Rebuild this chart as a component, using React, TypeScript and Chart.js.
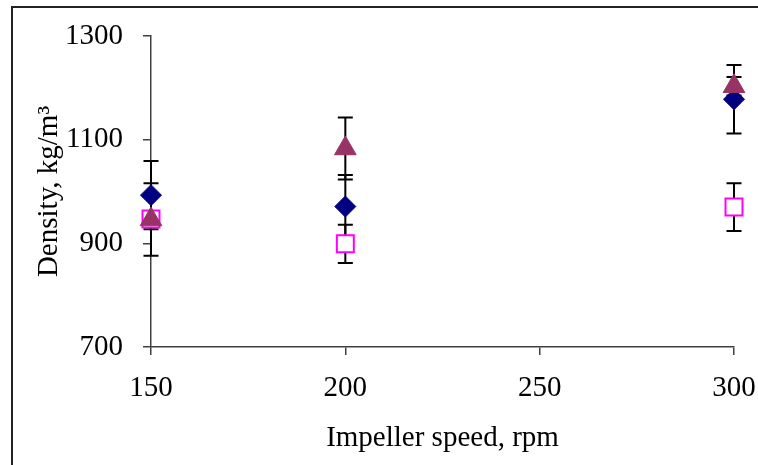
import React, { useEffect, useRef } from "react";
import { Chart, registerables } from "chart.js";

Chart.register(...registerables);

const speeds = [150, 200, 300];
const diamondValues = [993, 971, 1178];
const diamondErrors = [66, 61, 66];
const squareValues = [947, 899, 970];
const squareErrors = [12, 37, 46];
const triangleValues = [946, 1083, 1203];
const triangleErrors = [70, 60, 18];
const yTicks = [700, 900, 1100, 1300];
const xTicks = [150, 200, 250, 300];

const FONT = "'Liberation Serif', 'Times New Roman', serif";

const errorBarPlugin = {
  id: "errorBars",
  beforeDatasetsDraw(chart: any) {
    const ctx = chart.ctx;
    const xs = chart.scales.x;
    const ys = chart.scales.y;
    ctx.save();
    ctx.strokeStyle = "#000";
    ctx.lineWidth = 2;
    chart.data.datasets.forEach((ds: any) => {
      const errs: number[] = ds.errors || [];
      ds.data.forEach((p: any, i: number) => {
        const e = errs[i];
        if (!e) return;
        const px = xs.getPixelForValue(p.x);
        const top = ys.getPixelForValue(p.y + e);
        const bot = ys.getPixelForValue(p.y - e);
        ctx.beginPath();
        ctx.moveTo(px, top);
        ctx.lineTo(px, bot);
        ctx.moveTo(px - 7.5, top);
        ctx.lineTo(px + 7.5, top);
        ctx.moveTo(px - 7.5, bot);
        ctx.lineTo(px + 7.5, bot);
        ctx.stroke();
      });
    });
    ctx.restore();
  },
};

export default function App() {
  const ref = useRef<HTMLCanvasElement>(null);
  useEffect(() => {
    const toPts = (vals: number[]) => vals.map((v, i) => ({ x: speeds[i], y: v }));
    const chart = new Chart(ref.current!, {
      type: "scatter",
      data: {
        datasets: [
          {
            label: "triangle",
            data: toPts(triangleValues),
            errors: triangleErrors,
            pointStyle: "triangle",
            pointRadius: 12.5,
            backgroundColor: "#993366",
            borderColor: "#993366",
            borderWidth: 1,
            clip: false,
          } as any,
          {
            label: "square",
            data: toPts(squareValues),
            errors: squareErrors,
            pointStyle: "rect",
            pointRadius: 12,
            backgroundColor: "#ffffff",
            borderColor: "#ff00ff",
            borderWidth: 2,
            clip: false,
          } as any,
          {
            label: "diamond",
            data: toPts(diamondValues),
            errors: diamondErrors,
            pointStyle: "rectRot",
            pointRadius: 10.5,
            backgroundColor: "#000080",
            borderColor: "#000080",
            borderWidth: 1,
            clip: false,
          } as any,
        ],
      },
      options: {
        animation: false,
        responsive: false,
        maintainAspectRatio: false,
        layout: { autoPadding: false, padding: { top: 36, right: 24, left: 0, bottom: 0 } },
        plugins: { legend: { display: false }, tooltip: { enabled: false } },
        scales: {
          x: {
            type: "linear",
            min: 150,
            max: 300,
            afterBuildTicks: (s: any) => {
              s.ticks = xTicks.map((v) => ({ value: v }));
            },
            afterFit: (s: any) => {
              s.height = 118;
              s.paddingLeft = 0;
              s.paddingRight = 0;
            },
            grid: { display: true, drawOnChartArea: false, drawTicks: true, tickLength: 8, color: "#404040", lineWidth: 1.5 },
            border: { display: true, color: "#404040", width: 1.5 },
            ticks: { color: "#000", padding: 16, font: { family: FONT, size: 29 }, callback: (v: any) => String(v) },
            title: {
              display: true,
              text: "Impeller speed, rpm",
              color: "#000",
              font: { family: FONT, size: 29 },
              padding: { top: 4, bottom: 9 },
            },
          },
          y: {
            type: "linear",
            min: 700,
            max: 1300,
            afterBuildTicks: (s: any) => {
              s.ticks = yTicks.map((v) => ({ value: v }));
            },
            afterFit: (s: any) => {
              s.width = 151;
              s.paddingTop = 0;
              s.paddingBottom = 0;
            },
            grid: { display: true, drawOnChartArea: false, drawTicks: true, tickLength: 8, color: "#404040", lineWidth: 1.5 },
            border: { display: true, color: "#404040", width: 1.5 },
            ticks: { color: "#000", padding: 20, font: { family: FONT, size: 29 }, callback: (v: any) => String(v) },
            title: {
              display: true,
              text: "Density, kg/m³",
              color: "#000",
              font: { family: FONT, size: 29 },
              padding: { top: 32, bottom: 0 },
            },
          },
        },
      },
      plugins: [errorBarPlugin],
    } as any);
    return () => chart.destroy();
  }, []);
  return (
    <div style={{ position: "fixed", left: 0, top: 0, width: 758, height: 465, background: "#fff" }}>
      <canvas ref={ref} width={758} height={465} style={{ position: "absolute", left: 0, top: 0, width: 758, height: 465 }} />
      <div
        style={{
          position: "absolute",
          left: 11,
          top: 6,
          width: 760,
          height: 470,
          borderTop: "2px solid #222",
          borderLeft: "2px solid #222",
          pointerEvents: "none",
        }}
      />
    </div>
  );
}
